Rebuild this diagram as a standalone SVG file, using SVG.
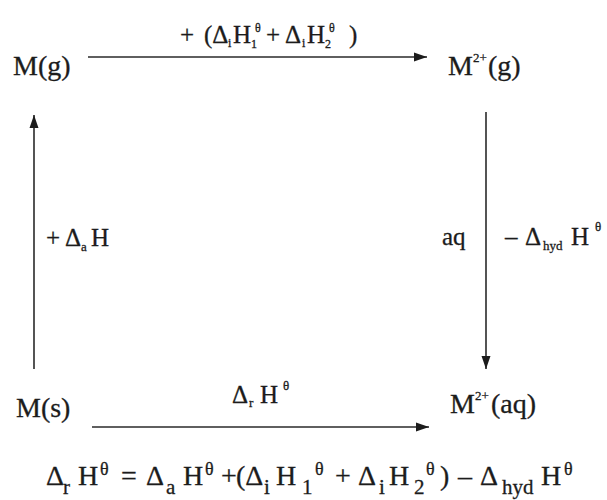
<svg xmlns="http://www.w3.org/2000/svg" width="607" height="500" viewBox="0 0 607 500">
<style>
.t{font-family:"Liberation Serif","Times New Roman",serif;fill:#1c1c1c;stroke:#1c1c1c;stroke-width:0.3}
.big{font-size:28px}
.lab{font-size:25px}
.s{font-size:13px}
.eq{font-size:28px}
.es{font-size:21px}
.ep{font-size:18px}
.ln{stroke:#2a2a2a;stroke-width:1.6;fill:none}
</style>
<defs>
<marker id="ah" markerUnits="userSpaceOnUse" markerWidth="14" markerHeight="10" refX="13" refY="5" orient="auto">
<path d="M0,0.5 L13,5 L0,9.5 Z" fill="#1c1c1c"/>
</marker>
</defs>
<rect width="607" height="500" fill="#ffffff"/>

<g id="connectors">
<line id="e-top" class="ln" x1="88" y1="57" x2="427" y2="57" marker-end="url(#ah)"/>
<line id="e-right" class="ln" x1="486" y1="112" x2="486" y2="369" marker-end="url(#ah)"/>
<line id="e-bottom" class="ln" x1="92" y1="427" x2="429" y2="427" marker-end="url(#ah)"/>
<line id="e-left" class="ln" x1="34" y1="369" x2="34" y2="115" marker-end="url(#ah)"/>
</g>

<g id="node-Mg">
<text class="t big" x="13" y="75">M(g)</text>
</g>
<g id="node-M2g">
<text class="t big"><tspan x="448" y="75">M</tspan><tspan class="s" x="473" y="62">2+</tspan><tspan x="488" y="75">(g)</tspan></text>
</g>
<g id="node-Ms">
<text class="t big" x="16" y="417">M(s)</text>
</g>
<g id="node-M2aq">
<text class="t big"><tspan x="450" y="413">M</tspan><tspan class="s" x="475" y="400">2+</tspan><tspan x="491" y="413">(aq)</tspan></text>
</g>

<g id="label-top">
<text class="t lab"><tspan x="180" y="43">+</tspan><tspan x="204" y="43">(Δ</tspan><tspan font-size="12" x="228" y="47">i</tspan><tspan x="233" y="43">H</tspan><tspan font-size="12" x="251" y="48">1</tspan><tspan font-size="12" x="255" y="32">θ</tspan><tspan x="266" y="43">+</tspan><tspan x="285" y="43">Δ</tspan><tspan font-size="12" x="302" y="47">i</tspan><tspan x="307" y="43">H</tspan><tspan font-size="12" x="325" y="48">2</tspan><tspan font-size="12" x="329" y="32">θ</tspan><tspan x="349" y="43">)</tspan></text>
</g>

<g id="label-left">
<text class="t lab"><tspan x="46" y="246">+</tspan><tspan x="65" y="246">Δ</tspan><tspan class="s" x="81" y="251">a</tspan><tspan x="91" y="246">H</tspan></text>
</g>

<g id="label-right">
<text class="t lab"><tspan x="442" y="245">aq</tspan><tspan x="505" y="245">–</tspan><tspan x="525" y="245">Δ</tspan><tspan class="s" x="543" y="250">hyd</tspan><tspan x="571" y="245">H</tspan><tspan class="s" x="595" y="231">θ</tspan></text>
</g>

<g id="label-bottom">
<text class="t lab"><tspan x="232" y="403">Δ</tspan><tspan class="s" x="249" y="407">r</tspan><tspan x="260" y="403">H</tspan><tspan class="s" x="283" y="390">θ</tspan></text>
</g>

<g id="equation">
<text class="t eq"><tspan x="46" y="485">Δ</tspan><tspan class="es" x="63" y="494">r</tspan><tspan x="78" y="485">H</tspan><tspan class="ep" x="100" y="475">θ</tspan><tspan x="121" y="485">=</tspan><tspan x="146" y="485">Δ</tspan><tspan class="es" x="166" y="494">a</tspan><tspan x="183" y="485">H</tspan><tspan class="ep" x="205" y="475">θ</tspan><tspan x="221" y="485">+</tspan><tspan x="236" y="485">(Δ</tspan><tspan class="es" x="264" y="494">i</tspan><tspan x="276" y="485">H</tspan><tspan class="es" x="302" y="494">1</tspan><tspan class="ep" x="315" y="475">θ</tspan><tspan x="335" y="485">+</tspan><tspan x="358" y="485">Δ</tspan><tspan class="es" x="379" y="494">i</tspan><tspan x="389" y="485">H</tspan><tspan class="es" x="414" y="494">2</tspan><tspan class="ep" x="426" y="475">θ</tspan><tspan x="440" y="485">)</tspan><tspan x="458" y="485">–</tspan><tspan x="480" y="485">Δ</tspan><tspan class="es" x="502" y="494">hyd</tspan><tspan x="541" y="485">H</tspan><tspan class="ep" x="564" y="475">θ</tspan></text>
</g>
</svg>
